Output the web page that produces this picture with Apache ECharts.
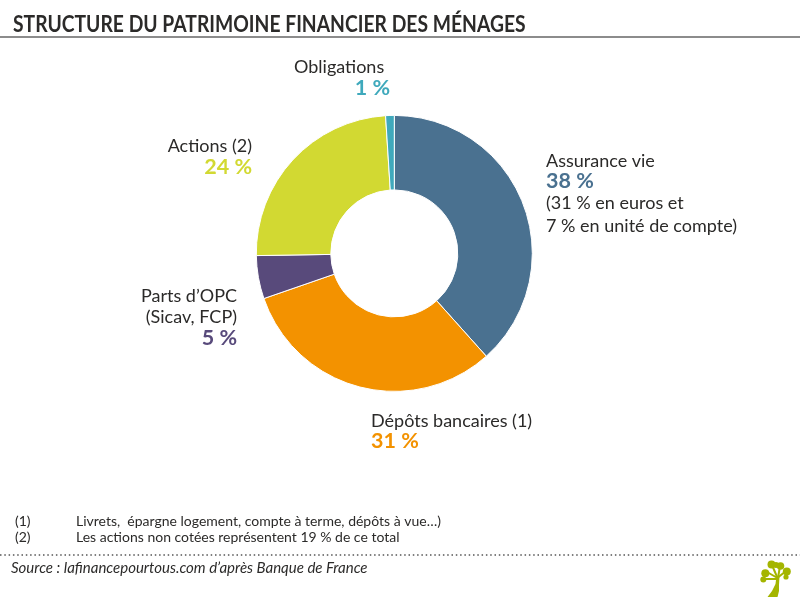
<!DOCTYPE html>
<html>

<head>
    <meta charset="utf-8">
    <title>ECharts</title>
    <script src="https://cdn.jsdelivr.net/npm/echarts@6/dist/echarts.min.js"></script>
    <style>
        html, body { margin: 0; padding: 0; background: #fff; }
    </style>
</head>

<body>
    <div id="main" style="width: 800px;height:597px;"></div>

    <script type="text/javascript">
        var categories = ['Assurance vie', 'Dépôts bancaires (1)', "Parts d’OPC", 'Actions (2)', 'Obligations'];
        var values = [38, 31, 5, 24, 1];
        var colors = ['#4a7190', '#f39200', '#584a7b', '#d2d932', '#3fa9bc'];
        var titleText = 'STRUCTURE DU PATRIMOINE FINANCIER DES MÉNAGES';
        var notes = ['Livrets,  épargne logement, compte à terme, dépôts à vue…)', 'Les actions non cotées représentent 19 % de ce total'];
        var source = 'Source : lafinancepourtous.com d’après Banque de France';

        var font = 'Lato, "Noto Sans", sans-serif';
        var dark = '#2b2a29';

        function text(x, y, str, opts) {
            opts = opts || {};
            return {
                type: 'text',
                x: x,
                y: y,
                scaleX: opts.scaleX || 1,
                silent: true,
                style: {
                    text: str,
                    fill: opts.fill || dark,
                    font: (opts.style || 'normal') + ' ' + (opts.weight || 'normal') + ' ' + (opts.size || 18) + 'px ' + font,
                    textAlign: opts.align || 'left',
                    textVerticalAlign: 'middle'
                }
            };
        }

        function pct(i) {
            return values[i] + ' %';
        }

        var pctOpts = function (i, align) {
            return { fill: colors[i], weight: 'bold', size: 21.5, align: align };
        };

        var elements = [
            text(13, 25, titleText, { size: 22, weight: 'bold', scaleX: 0.877 }),
            { type: 'line', silent: true, shape: { x1: 0, y1: 37, x2: 800, y2: 37 }, style: { stroke: '#666', lineWidth: 1.5 } },

            text(294, 67, categories[4]),
            text(390, 88, pct(4), pctOpts(4, 'right')),
            text(252, 146, categories[3], { align: 'right' }),
            text(252, 167, pct(3), pctOpts(3, 'right')),
            text(546, 161, categories[0]),
            text(546, 181, pct(0), pctOpts(0)),
            text(546, 203, '(31 % en euros et'),
            text(546, 226, '7 % en unité de compte)'),
            text(237, 296, categories[2], { align: 'right' }),
            text(237, 317, '(Sicav, FCP)', { align: 'right' }),
            text(237, 338, pct(2), pctOpts(2, 'right')),
            text(371, 421, categories[1]),
            text(371, 441, pct(1), pctOpts(1)),

            text(15, 521, '(1)', { size: 14 }),
            text(76, 521, notes[0], { size: 14 }),
            text(15, 537, '(2)', { size: 14 }),
            text(76, 537, notes[1], { size: 14 }),
            { type: 'line', silent: true, shape: { x1: 0, y1: 555, x2: 800, y2: 555 }, style: { stroke: '#555', lineWidth: 1.5, lineDash: [1.5, 2.8] } },
            text(11, 568, source, { size: 15, style: 'italic' })
        ];

        // petit arbre en bas a droite
        var green = '#a4b500';
        elements.push({
            type: 'polygon',
            silent: true,
            shape: { points: [[767.5, 597], [772, 591], [775.5, 584], [776.5, 576], [779.5, 576], [779, 585], [779, 591], [777.5, 597]] },
            style: { fill: green }
        });
        [[777, 579, 764, 579], [777.5, 578, 767, 572], [777.5, 578, 772, 565], [778, 578, 780, 566], [778.5, 577, 786, 571]].forEach(function (b) {
            elements.push({
                type: 'line',
                silent: true,
                shape: { x1: b[0], y1: b[1], x2: b[2], y2: b[3] },
                style: { stroke: green, lineWidth: 2 }
            });
        });
        [[771.5, 564.5, 4], [776, 565, 3], [780.5, 566, 3.8], [786.8, 571.5, 4], [765.3, 573.3, 4], [763.3, 579.5, 3], [786, 577, 2.6]].forEach(function (c) {
            elements.push({
                type: 'circle',
                silent: true,
                shape: { cx: c[0], cy: c[1], r: c[2] },
                style: { fill: green }
            });
        });

        var myChart = echarts.init(document.getElementById('main'), null, { renderer: 'canvas' });
        var option = {
            animation: false,
            backgroundColor: '#fff',
            graphic: { elements: elements },
            series: [{
                type: 'pie',
                center: [394.3, 253.4],
                radius: [63.5, 138],
                startAngle: 90,
                clockwise: true,
                silent: true,
                itemStyle: { borderColor: '#fff', borderWidth: 1 },
                label: { show: false },
                labelLine: { show: false },
                data: categories.map(function (name, i) {
                    return { name: name, value: values[i], itemStyle: { color: colors[i] } };
                })
            }]
        };
        myChart.setOption(option);
    </script>
</body>

</html>
